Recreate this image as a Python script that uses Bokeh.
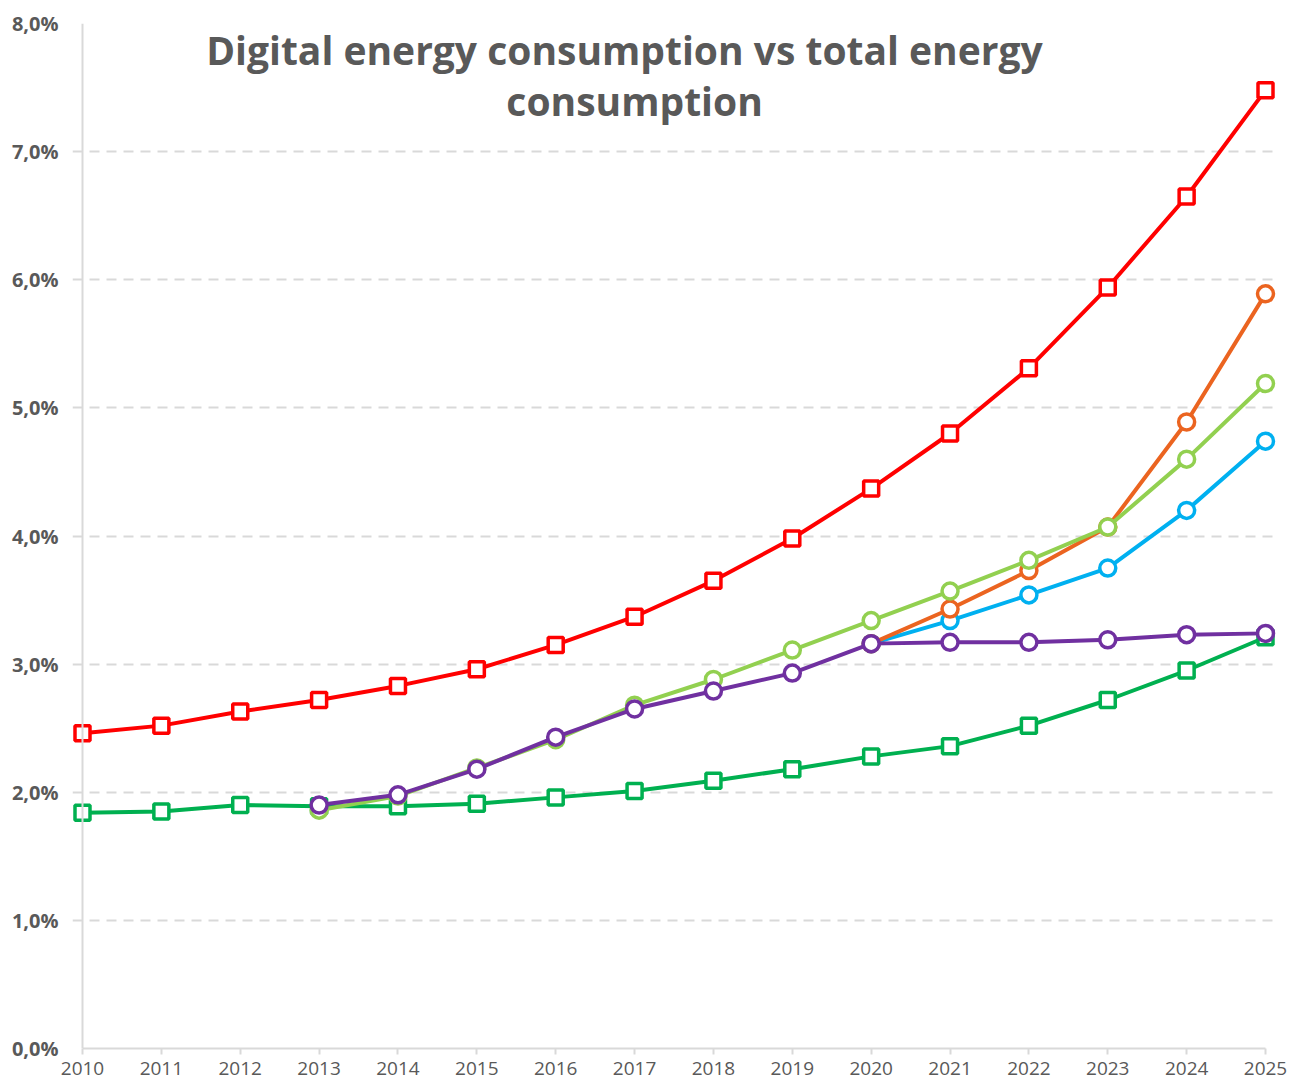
from bokeh.plotting import figure
from bokeh.models import Range1d, FixedTicker, Span, Label
from bokeh.embed import file_html
from bokeh.resources import INLINE

years = list(range(2010, 2026))
year_labels = [str(y) for y in years]

y_ticks = [0, 1, 2, 3, 4, 5, 6, 7, 8]
y_tick_labels = ["0,0%", "1,0%", "2,0%", "3,0%", "4,0%", "5,0%", "6,0%", "7,0%", "8,0%"]

title_line1 = "Digital  energy consumption  vs total energy"
title_line2 = "consumption"

# Series (percent)
red_years = years
red_vals = [2.46, 2.52, 2.63, 2.72, 2.83, 2.96, 3.15, 3.37, 3.65, 3.98, 4.37, 4.80, 5.31, 5.94, 6.65, 7.48]

green_years = years
green_vals = [1.84, 1.85, 1.90, 1.89, 1.89, 1.91, 1.96, 2.01, 2.09, 2.18, 2.28, 2.36, 2.52, 2.72, 2.95, 3.21]

lgreen_years = list(range(2013, 2026))
lgreen_vals = [1.86, 1.97, 2.19, 2.41, 2.68, 2.88, 3.11, 3.34, 3.57, 3.81, 4.07, 4.60, 5.19]

purple_years = list(range(2013, 2026))
purple_vals = [1.90, 1.98, 2.18, 2.43, 2.65, 2.79, 2.93, 3.16, 3.17, 3.17, 3.19, 3.23, 3.24]

orange_years = list(range(2020, 2026))
orange_vals = [3.16, 3.43, 3.73, 4.07, 4.89, 5.89]

blue_years = list(range(2020, 2026))
blue_vals = [3.16, 3.34, 3.54, 3.75, 4.20, 4.74]

GRID = "#D9D9D9"
TXT = "#595959"

p = figure(width=1293, height=1084, output_backend="svg", toolbar_location=None,
           x_range=Range1d(2010 - 10 / 78.87, 2025 + 12 / 78.87),
           y_range=Range1d(0, 8),
           min_border_left=72, min_border_right=16, min_border_top=23, min_border_bottom=36)
p.outline_line_color = None
p.background_fill_color = "white"
p.border_fill_color = "white"

# x axis
xa = p.xaxis[0]
xa.ticker = FixedTicker(ticks=years)
xa.major_label_overrides = {y: l for y, l in zip(years, year_labels)}
xa.bounds = (2010, 2025)
xa.axis_line_color = GRID
xa.axis_line_width = 2
xa.major_tick_line_color = GRID
xa.major_tick_line_width = 2
xa.major_tick_out = 6
xa.major_tick_in = 0
xa.minor_tick_line_color = None
xa.major_label_standoff = 7
xa.major_label_text_font = "Open Sans"
xa.major_label_text_font_size = "19px"
xa.major_label_text_color = TXT

# y axis
ya = p.yaxis[0]
ya.ticker = FixedTicker(ticks=y_ticks)
ya.major_label_overrides = {t: l for t, l in zip(y_ticks, y_tick_labels)}
ya.axis_line_color = None
ya.major_tick_line_color = None
ya.minor_tick_line_color = None
ya.major_tick_out = 0
ya.major_label_standoff = 14
ya.major_label_text_font = "Open Sans"
ya.major_label_text_font_style = "bold"
ya.major_label_text_font_size = "20px"
ya.major_label_text_color = TXT

p.xgrid.grid_line_color = None
p.ygrid.ticker = FixedTicker(ticks=y_ticks[1:])
p.ygrid.grid_line_color = GRID
p.ygrid.grid_line_width = 2
p.ygrid.grid_line_dash = "10 7"

p.add_layout(Span(location=2010, dimension="height", line_color=GRID, line_width=2))

def series(xs, ys, color, marker):
    p.line(xs, ys, line_color=color, line_width=4)
    if marker == "square":
        p.scatter(xs, ys, marker="square", size=15, line_color=color, line_width=3.5, fill_color="white")
    else:
        p.scatter(xs, ys, marker="circle", size=16, line_color=color, line_width=3.5, fill_color="white")

series(green_years, green_vals, "#00B050", "square")
series(blue_years, blue_vals, "#00B0F0", "circle")
series(orange_years, orange_vals, "#EB6420", "circle")
series(lgreen_years, lgreen_vals, "#92D050", "circle")
series(purple_years, purple_vals, "#7030A0", "circle")
series(red_years, red_vals, "#FF0000", "square")

for txt, yy in [(title_line1, 7.80), (title_line2, 7.40)]:
    p.add_layout(Label(x=2017.0, y=yy, text=txt, text_align="center", text_baseline="alphabetic",
                       text_font="Open Sans", text_font_style="bold", text_font_size="39px",
                       text_color=TXT))

open("out.html", "w").write(file_html(p, INLINE))
